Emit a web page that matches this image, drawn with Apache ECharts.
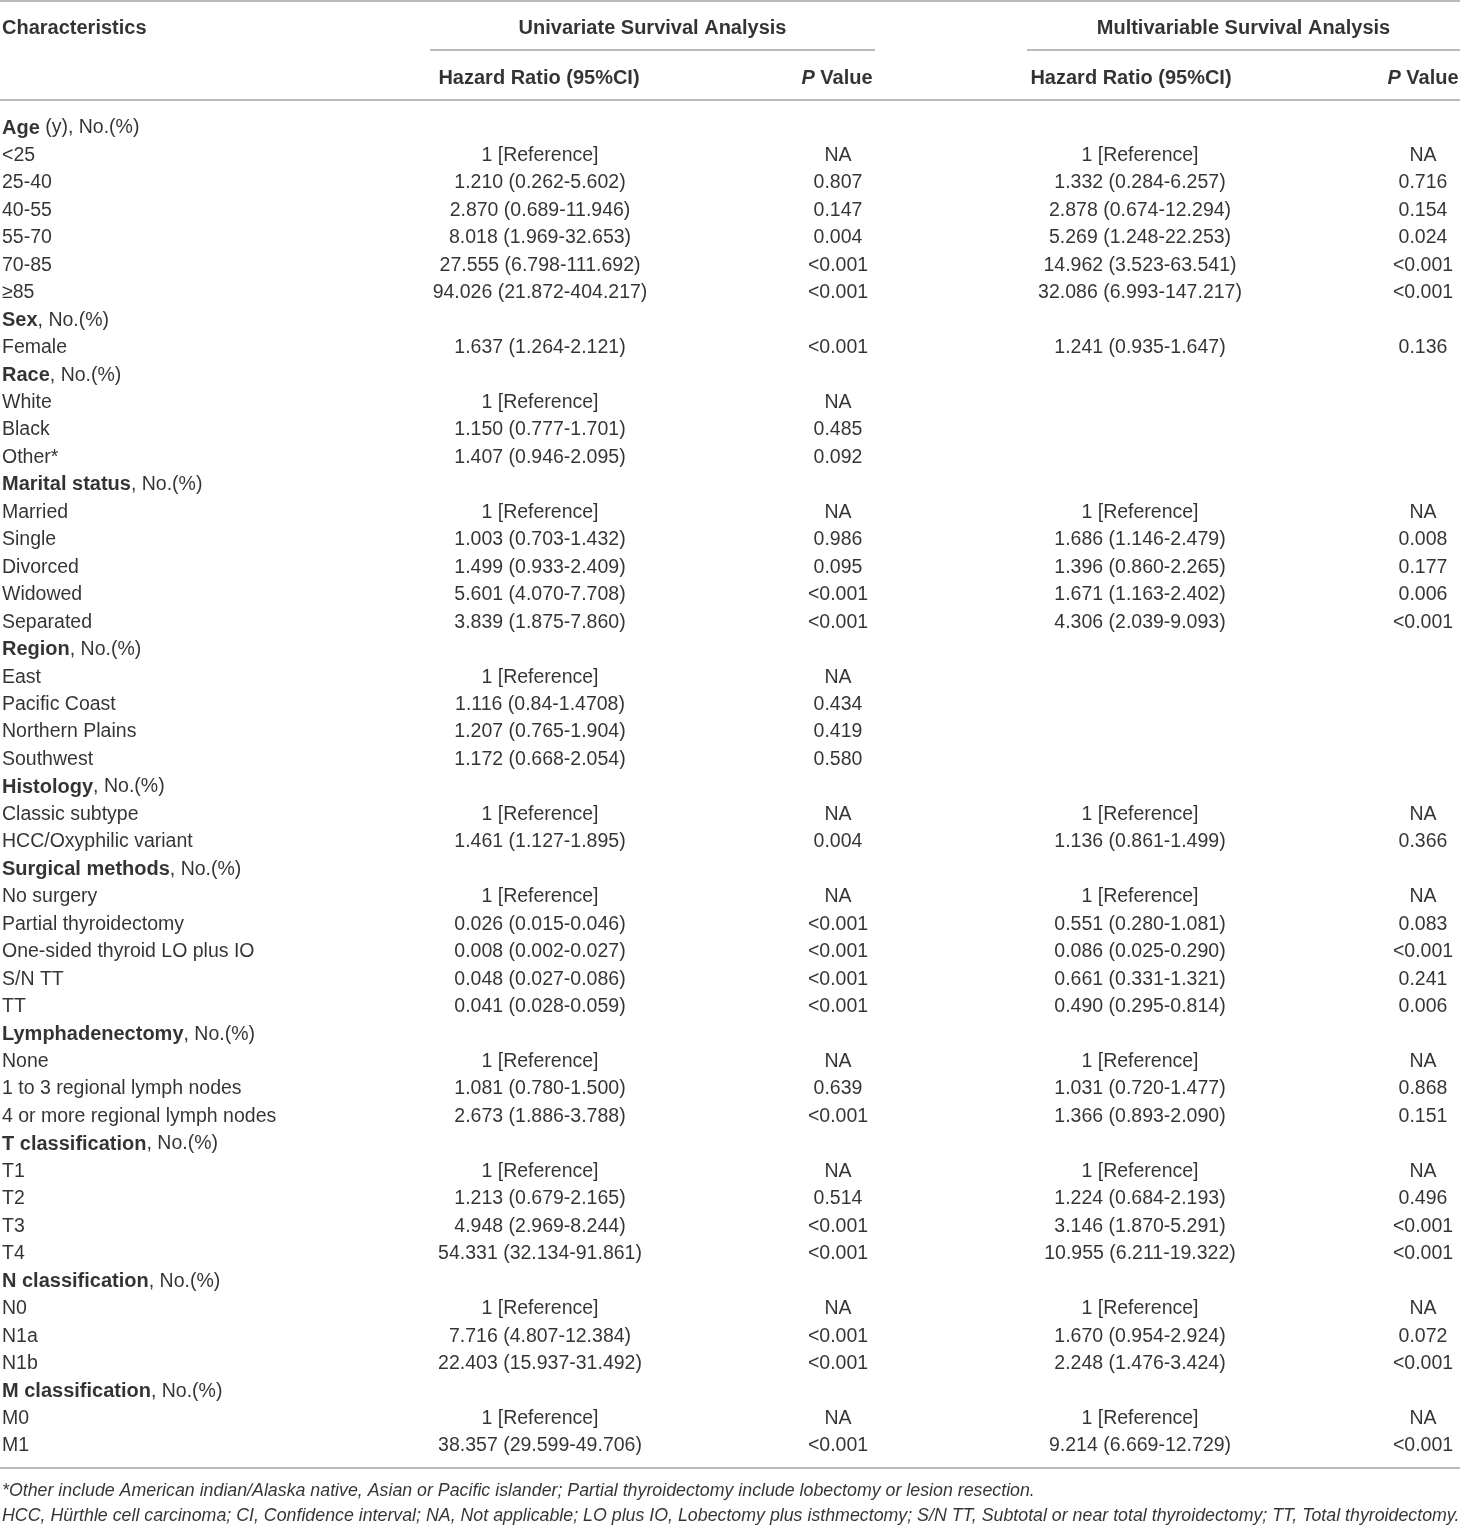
<!DOCTYPE html>
<html>
<head>
<meta charset="utf-8">
<title>Survival analysis table</title>
<script src="https://cdn.jsdelivr.net/npm/echarts@6/dist/echarts.min.js"></script>
<style>
    html, body {margin: 0; padding: 0; background: #fff;}
    #chart {width: 1460px; height: 1525px;}
</style>
</head>
<body>
<div id="chart"></div>
<script>
// ---- table content ----
const characteristics = [
    'Age (y), No.(%)', '<25', '25-40', '40-55', '55-70', '70-85', '≥85',
    'Sex, No.(%)', 'Female',
    'Race, No.(%)', 'White', 'Black', 'Other*',
    'Marital status, No.(%)', 'Married', 'Single', 'Divorced', 'Widowed', 'Separated',
    'Region, No.(%)', 'East', 'Pacific Coast', 'Northern Plains', 'Southwest',
    'Histology, No.(%)', 'Classic subtype', 'HCC/Oxyphilic variant',
    'Surgical methods, No.(%)', 'No surgery', 'Partial thyroidectomy', 'One-sided thyroid LO plus IO', 'S/N TT', 'TT',
    'Lymphadenectomy, No.(%)', 'None', '1 to 3 regional lymph nodes', '4 or more regional lymph nodes',
    'T classification, No.(%)', 'T1', 'T2', 'T3', 'T4',
    'N classification, No.(%)', 'N0', 'N1a', 'N1b',
    'M classification, No.(%)', 'M0', 'M1'
];
const sectionNames = ['Age', 'Sex', 'Race', 'Marital status', 'Region', 'Histology', 'Surgical methods',
    'Lymphadenectomy', 'T classification', 'N classification', 'M classification'];

const uniHR = [
    '', '1 [Reference]', '1.210 (0.262-5.602)', '2.870 (0.689-11.946)', '8.018 (1.969-32.653)', '27.555 (6.798-111.692)', '94.026 (21.872-404.217)',
    '', '1.637 (1.264-2.121)',
    '', '1 [Reference]', '1.150 (0.777-1.701)', '1.407 (0.946-2.095)',
    '', '1 [Reference]', '1.003 (0.703-1.432)', '1.499 (0.933-2.409)', '5.601 (4.070-7.708)', '3.839 (1.875-7.860)',
    '', '1 [Reference]', '1.116 (0.84-1.4708)', '1.207 (0.765-1.904)', '1.172 (0.668-2.054)',
    '', '1 [Reference]', '1.461 (1.127-1.895)',
    '', '1 [Reference]', '0.026 (0.015-0.046)', '0.008 (0.002-0.027)', '0.048 (0.027-0.086)', '0.041 (0.028-0.059)',
    '', '1 [Reference]', '1.081 (0.780-1.500)', '2.673 (1.886-3.788)',
    '', '1 [Reference]', '1.213 (0.679-2.165)', '4.948 (2.969-8.244)', '54.331 (32.134-91.861)',
    '', '1 [Reference]', '7.716 (4.807-12.384)', '22.403 (15.937-31.492)',
    '', '1 [Reference]', '38.357 (29.599-49.706)'
];
const uniP = [
    '', 'NA', '0.807', '0.147', '0.004', '<0.001', '<0.001',
    '', '<0.001',
    '', 'NA', '0.485', '0.092',
    '', 'NA', '0.986', '0.095', '<0.001', '<0.001',
    '', 'NA', '0.434', '0.419', '0.580',
    '', 'NA', '0.004',
    '', 'NA', '<0.001', '<0.001', '<0.001', '<0.001',
    '', 'NA', '0.639', '<0.001',
    '', 'NA', '0.514', '<0.001', '<0.001',
    '', 'NA', '<0.001', '<0.001',
    '', 'NA', '<0.001'
];
const multiHR = [
    '', '1 [Reference]', '1.332 (0.284-6.257)', '2.878 (0.674-12.294)', '5.269 (1.248-22.253)', '14.962 (3.523-63.541)', '32.086 (6.993-147.217)',
    '', '1.241 (0.935-1.647)',
    '', '', '', '',
    '', '1 [Reference]', '1.686 (1.146-2.479)', '1.396 (0.860-2.265)', '1.671 (1.163-2.402)', '4.306 (2.039-9.093)',
    '', '', '', '', '',
    '', '1 [Reference]', '1.136 (0.861-1.499)',
    '', '1 [Reference]', '0.551 (0.280-1.081)', '0.086 (0.025-0.290)', '0.661 (0.331-1.321)', '0.490 (0.295-0.814)',
    '', '1 [Reference]', '1.031 (0.720-1.477)', '1.366 (0.893-2.090)',
    '', '1 [Reference]', '1.224 (0.684-2.193)', '3.146 (1.870-5.291)', '10.955 (6.211-19.322)',
    '', '1 [Reference]', '1.670 (0.954-2.924)', '2.248 (1.476-3.424)',
    '', '1 [Reference]', '9.214 (6.669-12.729)'
];
const multiP = [
    '', 'NA', '0.716', '0.154', '0.024', '<0.001', '<0.001',
    '', '0.136',
    '', '', '', '',
    '', 'NA', '0.008', '0.177', '0.006', '<0.001',
    '', '', '', '', '',
    '', 'NA', '0.366',
    '', 'NA', '0.083', '<0.001', '0.241', '0.006',
    '', 'NA', '0.868', '0.151',
    '', 'NA', '0.496', '<0.001', '<0.001',
    '', 'NA', '0.072', '<0.001',
    '', 'NA', '<0.001'
];
const groupHeaders = ['Univariate Survival Analysis', 'Multivariable Survival Analysis'];
const columnHeaders = ['Characteristics', 'Hazard Ratio (95%CI)', 'P Value'];
const footnotes = [
    '*Other include American indian/Alaska native, Asian or Pacific islander; Partial thyroidectomy include lobectomy or lesion resection.',
    'HCC, Hürthle cell carcinoma; CI, Confidence interval; NA, Not applicable; LO plus IO, Lobectomy plus isthmectomy; S/N TT, Subtotal or near total thyroidectomy; TT, Total thyroidectomy.'
];

// ---- layout ----
const W = 1460, H = 1525;
const rowStep = 27.46;          // px per table row
const firstRowPx = 126;         // centre of first body row
const yMin = -firstRowPx / rowStep;
const yMax = yMin + H / rowStep;
const row = px => (px - firstRowPx) / rowStep;   // header / rule positions in row units

const col = {label: 2, uniHR: 540, uniP: 838, multiHR: 1140, multiP: 1423};
const span = {uni: [430, 875], multi: [1027, 1460]};
const FONT = 'Liberation Sans';
const INK = '#000';
const RULE = '#a3a3a3';
const FS = 19.5;

const rich = {
    b: {fontFamily: FONT, fontSize: 20, fontWeight: 'bold', color: INK},
    n: {fontFamily: FONT, fontSize: FS, color: INK},
    bi: {fontFamily: FONT, fontSize: 20, fontWeight: 'bold', fontStyle: 'italic', color: INK},
    f: {fontFamily: FONT, fontSize: 17.8, fontStyle: 'italic', color: INK}
};

function labelText(s) {
    const sec = sectionNames.find(n => s.startsWith(n) && s.indexOf('No.(%)') > 0);
    if (sec) return '{b|' + sec + '}{n|' + s.slice(sec.length) + '}';
    return '{n|' + s + '}';
}

function textSeries(name, points, align) {
    return {
        name: name,
        type: 'scatter',
        symbolSize: 0,
        silent: true,
        data: points,
        label: {
            show: true,
            position: 'inside',
            align: align,
            verticalAlign: 'middle',
            offset: [0, 2],
            color: INK,
            formatter: p => p.data.text,
            rich: rich
        }
    };
}

const bodyCol = (arr, x) => arr.map((t, i) => ({value: [x, i], text: '{n|' + t + '}'})).filter((d, i) => arr[i] !== '');

const headerPts = [
    {value: [col.label, row(26)], text: '{b|' + columnHeaders[0] + '}'},
    {value: [(span.uni[0] + span.uni[1]) / 2, row(26)], text: '{b|' + groupHeaders[0] + '}'},
    {value: [(span.multi[0] + span.multi[1]) / 2, row(26)], text: '{b|' + groupHeaders[1] + '}'},
    {value: [col.uniHR - 1, row(76)], text: '{b|' + columnHeaders[1] + '}'},
    {value: [col.uniP - 1, row(76)], text: '{bi|P}{b|' + columnHeaders[2].slice(1) + '}'},
    {value: [col.multiHR - 9, row(76)], text: '{b|' + columnHeaders[1] + '}'},
    {value: [col.multiP, row(76)], text: '{bi|P}{b|' + columnHeaders[2].slice(1) + '}'}
];
const footPts = footnotes.map((t, i) => ({value: [col.label, row(1489 + i * 25)], text: '{f|' + t + '}'}));

const rules = [
    [[0, row(1)], [W, row(1)]],
    [[span.uni[0], row(50)], [span.uni[1], row(50)]],
    [[span.multi[0], row(50)], [span.multi[1], row(50)]],
    [[0, row(100)], [W, row(100)]],
    [[0, row(1468)], [W, row(1468)]]
];

const chart = echarts.init(document.getElementById('chart'), null, {renderer: 'canvas'});
chart.setOption({
    animation: false,
    backgroundColor: '#fff',
    grid: {left: 0, right: 0, top: 0, bottom: 0},
    xAxis: {type: 'value', min: 0, max: W, show: false},
    yAxis: {type: 'value', min: yMin, max: yMax, inverse: true, show: false},
    series: [
        {
            name: 'rules',
            type: 'lines',
            coordinateSystem: 'cartesian2d',
            silent: true,
            lineStyle: {color: RULE, width: 1.5, opacity: 1},
            data: rules.map(c => ({coords: c}))
        },
        textSeries('headers-left', headerPts.slice(0, 1), 'left'),
        textSeries('headers', headerPts.slice(1), 'center'),
        textSeries('characteristics', characteristics.map((t, i) => ({value: [col.label, i], text: labelText(t)})), 'left'),
        textSeries('uniHR', bodyCol(uniHR, col.uniHR), 'center'),
        textSeries('uniP', bodyCol(uniP, col.uniP), 'center'),
        textSeries('multiHR', bodyCol(multiHR, col.multiHR), 'center'),
        textSeries('multiP', bodyCol(multiP, col.multiP), 'center'),
        textSeries('footnotes', footPts, 'left')
    ]
});
</script>
</body>
</html>
